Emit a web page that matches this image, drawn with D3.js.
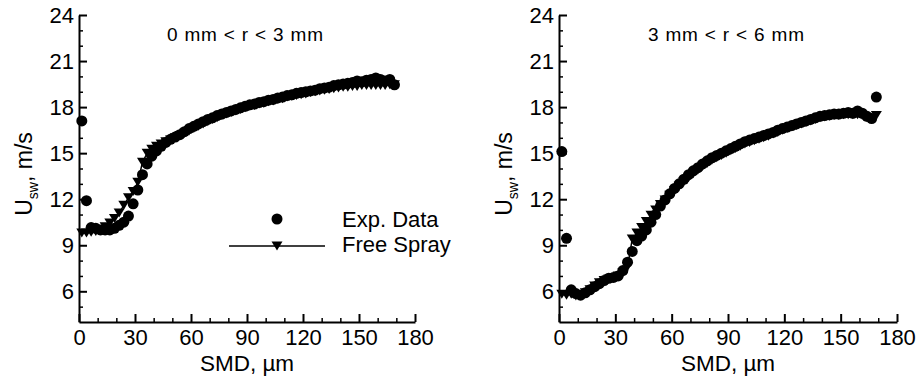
<!DOCTYPE html>
<html>
<head>
<meta charset="utf-8">
<script src="https://cdn.jsdelivr.net/npm/d3@7"></script>
<style>
  body { margin: 0; background: #fff; }
  svg { display: block; font-family: "Liberation Sans", Arial, sans-serif; }
</style>
</head>
<body>
<svg id="chart" width="916" height="379"></svg>
<script>
// SMD grid (um) shared by both panels
const smd = [1.5, 4, 6.5, 9, 11.5, 14, 16.5, 19, 21.5, 24, 26.5, 29, 31.5, 34, 36.5, 39, 41.5, 44, 46.5, 49,
  51.5, 54, 56.5, 59, 61.5, 64, 66.5, 69, 71.5, 74, 76.5, 79, 81.5, 84, 86.5, 89, 91.5, 94, 96.5, 99,
  101.5, 104, 106.5, 109, 111.5, 114, 116.5, 119, 121.5, 124, 126.5, 129, 131.5, 134, 136.5, 139,
  141.5, 144, 146.5, 149, 151.5, 154, 156.5, 159, 161.5, 164, 166.5, 169];

// 0 mm < r < 3 mm
const expInner = [17.1, 11.9, 10.15, 10.1, 10.0, 10.0, 10.0, 10.1, 10.3, 10.5, 10.9, 11.7, 12.6, 13.6, 14.3, 14.8,
  15.15, 15.45, 15.7, 15.9, 16.05, 16.2, 16.4, 16.6, 16.75, 16.9, 17.05, 17.2, 17.3, 17.45, 17.55, 17.65,
  17.75, 17.85, 17.95, 18.05, 18.15, 18.2, 18.3, 18.35, 18.45, 18.5, 18.6, 18.65, 18.75, 18.8, 18.9, 18.95,
  19.0, 19.05, 19.1, 19.2, 19.25, 19.3, 19.4, 19.45, 19.5, 19.55, 19.6, 19.7, 19.65, 19.75, 19.8, 19.9,
  19.8, 19.7, 19.8, 19.45];
const freeInner = [9.8, 9.8, 9.85, 9.9, 10.0, 10.2, 10.45, 10.75, 11.1, 11.6, 12.1, 12.5, 13.1, 14.4, 15.0, 15.25,
  15.45, 15.6, 15.75, 15.85, 16.0, 16.15, 16.3, 16.45, 16.6, 16.75, 16.9, 17.05, 17.2, 17.3, 17.45, 17.55,
  17.65, 17.75, 17.85, 17.95, 18.05, 18.1, 18.2, 18.25, 18.35, 18.4, 18.5, 18.55, 18.65, 18.7, 18.75, 18.8,
  18.85, 18.95, 19.0, 19.05, 19.1, 19.15, 19.2, 19.25, 19.3, 19.3, 19.35, 19.35, 19.4, 19.4, 19.4, 19.4,
  19.4, 19.4, 19.45, 19.45];

// 3 mm < r < 6 mm
const expOuter = [15.1, 9.45, 6.1, 5.85, 5.75, 5.9, 6.1, 6.3, 6.5, 6.7, 6.85, 6.9, 7.0, 7.35, 7.9, 8.6,
  9.3, 9.6, 10.0, 10.5, 11.0, 11.55, 11.95, 12.35, 12.7, 13.0, 13.3, 13.6, 13.85, 14.05, 14.3, 14.5,
  14.7, 14.85, 15.0, 15.15, 15.3, 15.45, 15.6, 15.75, 15.85, 15.95, 16.05, 16.15, 16.25, 16.35, 16.5, 16.6,
  16.7, 16.8, 16.9, 17.0, 17.1, 17.2, 17.3, 17.4, 17.45, 17.5, 17.55, 17.55, 17.6, 17.65, 17.6, 17.75,
  17.6, 17.4, 17.25, 18.65];
const freeOuter = [5.8, 5.75, 5.8, 5.7, 5.75, 5.9, 6.1, 6.35, 6.55, 6.7, 6.8, 6.9, 7.0, 7.2, 7.6, 9.4,
  9.8, 10.15, 10.55, 10.95, 11.3, 11.65, 11.95, 12.25, 12.55, 12.85, 13.15, 13.4, 13.65, 13.9, 14.15, 14.35,
  14.55, 14.7, 14.85, 15.0, 15.15, 15.3, 15.45, 15.6, 15.7, 15.8, 15.9, 16.0, 16.1, 16.25, 16.35, 16.5,
  16.6, 16.7, 16.8, 16.9, 17.0, 17.1, 17.2, 17.3, 17.35, 17.4, 17.45, 17.45, 17.5, 17.5, 17.5, 17.5,
  17.45, 17.3, 17.2, 17.45];

const xTicks = [0, 30, 60, 90, 120, 150, 180];
const xMinor = [10, 20, 40, 50, 70, 80, 100, 110, 130, 140, 160, 170];
const yTicks = [6, 9, 12, 15, 18, 21, 24];
const yMinor = [5, 7, 8, 10, 11, 13, 14, 16, 17, 19, 20, 22, 23];
const panelTitles = ['0 mm < r < 3 mm', '3 mm < r < 6 mm'];
const legendLabels = ['Exp. Data', 'Free Spray'];

const svg = d3.select('#chart');
svg.append('rect').attr('width', 916).attr('height', 379).attr('fill', '#fff');

const triPath = 'M-5.5,-4.5L5.5,-4.5L0,4.5Z';

function drawPanel(x0, x1, title, exp, free, withLegend) {
  const x = d3.scaleLinear().domain([0, 180]).range([x0, x1]);
  const y = d3.scaleLinear().domain([4, 24]).range([322, 15]);
  const g = svg.append('g');

  // minor ticks first
  g.append('g')
   .attr('transform', `translate(0,${y(4)})`)
   .call(d3.axisBottom(x).tickValues(xMinor).tickSize(-4).tickFormat(''))
   .call(s => s.select('.domain').remove())
   .call(s => s.selectAll('line').attr('stroke-width', 1.5));
  g.append('g')
   .attr('transform', `translate(${x0},0)`)
   .call(d3.axisLeft(y).tickValues(yMinor).tickSize(-4).tickFormat(''))
   .call(s => s.select('.domain').remove())
   .call(s => s.selectAll('line').attr('stroke-width', 1.5));

  const xa = g.append('g')
   .attr('transform', `translate(0,${y(4)})`)
   .call(d3.axisBottom(x).tickValues(xTicks).tickSizeInner(-8).tickSizeOuter(0).tickPadding(7));
  const ya = g.append('g')
   .attr('transform', `translate(${x0},0)`)
   .call(d3.axisLeft(y).tickValues(yTicks).tickSizeInner(-8).tickSizeOuter(0).tickPadding(5));
  [xa, ya].forEach(a => {
    a.select('.domain').attr('stroke-width', 2);
    a.selectAll('line').attr('stroke-width', 2);
    a.selectAll('text').attr('font-size', 22).attr('font-family', null).attr('fill', '#000');
  });

  // axis titles
  g.append('text')
   .attr('x', (x0 + x1) / 2).attr('y', 371)
   .attr('text-anchor', 'middle').attr('font-size', 22.5)
   .text('SMD, \u00b5m');
  const yt = g.append('text')
   .attr('transform', `translate(${x0 - 47},174) rotate(-90)`)
   .attr('text-anchor', 'middle').attr('font-size', 23);
  yt.append('tspan').text('U');
  yt.append('tspan').attr('font-size', 14).attr('dy', 6).text('sw');
  yt.append('tspan').attr('dy', -6).text(', m/s');

  g.append('text')
   .attr('x', (x0 + x1) / 2 - 2).attr('y', 41)
   .attr('text-anchor', 'middle').attr('font-size', 19)
   .attr('textLength', 156).attr('lengthAdjust', 'spacing')
   .text(title);

  // Free Spray: line + down triangles
  const pts = smd.map((d, i) => [d, free[i]]);
  g.append('path')
   .datum(pts)
   .attr('fill', 'none').attr('stroke', '#000').attr('stroke-width', 1.5)
   .attr('d', d3.line().x(d => x(d[0])).y(d => y(d[1])));
  g.selectAll('path.tri')
   .data(pts).enter().append('path')
   .attr('class', 'tri')
   .attr('d', triPath)
   .attr('transform', d => `translate(${x(d[0])},${y(d[1])})`);

  // Exp. Data: filled circles
  g.selectAll('circle.exp')
   .data(smd.map((d, i) => [d, exp[i]])).enter().append('circle')
   .attr('class', 'exp')
   .attr('r', 5.5)
   .attr('cx', d => x(d[0]))
   .attr('cy', d => y(d[1]));

  if (withLegend) {
    const lg = svg.append('g');
    lg.append('circle').attr('cx', 277).attr('cy', 219).attr('r', 5.5);
    lg.append('line').attr('x1', 229).attr('x2', 325).attr('y1', 246).attr('y2', 246)
      .attr('stroke', '#000').attr('stroke-width', 1.5);
    lg.append('path').attr('d', triPath).attr('transform', 'translate(277,246)');
    lg.selectAll('text')
      .data(legendLabels).enter().append('text')
      .attr('x', 342)
      .attr('y', (d, i) => i ? 252 : 227)
      .attr('font-size', 22)
      .text(d => d);
  }
}

drawPanel(79, 415, panelTitles[0], expInner, freeInner, true);
drawPanel(559, 897, panelTitles[1], expOuter, freeOuter, false);
</script>
</body>
</html>
